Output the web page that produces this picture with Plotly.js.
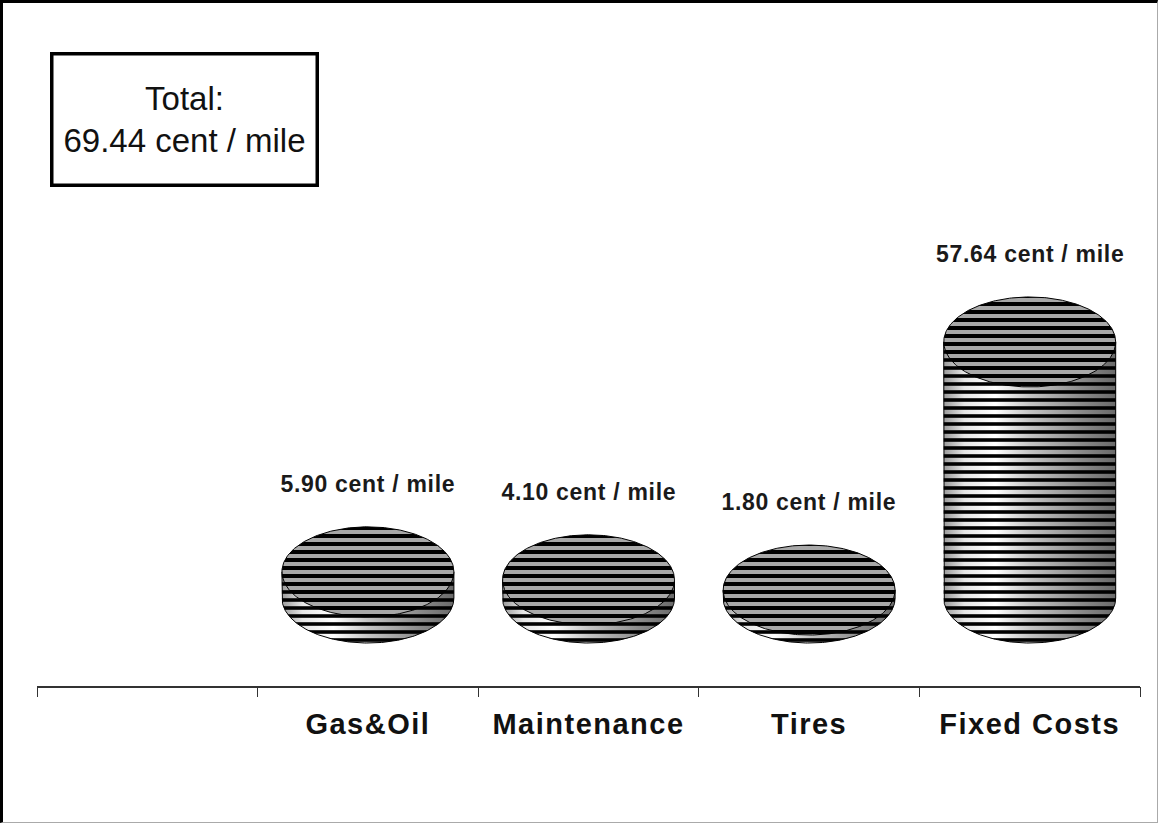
<!DOCTYPE html>
<html>
<head>
<meta charset="utf-8">
<script src="https://cdn.plot.ly/plotly-3.0.1.min.js"></script>
<style>
  html, body { margin: 0; padding: 0; background: #fff; }
  #chart {
    position: absolute; left: 0; top: 0;
    width: 1154px; height: 819px;
    border-left: 3px solid #000; border-top: 3px solid #000;
    border-right: 1px solid #aaa; border-bottom: 1px solid #aaa;
  }
  #chart .xtick text { letter-spacing: 1.5px; }
  #chart .annotation:not([data-index="0"]) text { letter-spacing: 0.7px; }
</style>
</head>
<body>
<div id="chart"></div>
<script>
// ---- data ----
const categories = ['', 'Gas&Oil', 'Maintenance', 'Tires', 'Fixed Costs'];
const costs = [null, 5.90, 4.10, 1.80, 57.64];
const unitLabel = 'cent / mile';
const totalLabel = 'Total:';

// ---- layout geometry ----
const W = 1154, H = 819;
const margin = {l: 34, r: 17, t: 97, b: 136, pad: 0};
const plotW = W - margin.l - margin.r;
const plotH = H - margin.t - margin.b;
const xRange = [-0.5, categories.length - 0.5];
const yRange = [-19.8, 112.1];
const pxPerX = plotW / (xRange[1] - xRange[0]);
const pxPerY = plotH / (yRange[1] - yRange[0]);
const rx = 86 / pxPerX;   // cylinder half width (data units)
const ry = 45 / pxPerY;   // cap ellipse half height (data units)
const N = 160;

const traces = [];
costs.forEach((v, i) => {
  if (v === null || v === undefined) return;
  // body outline: left side, bottom half-ellipse, right side
  const bx = [i - rx], by = [v];
  bx.push(i - rx); by.push(0);
  for (let k = 0; k <= N; k++) {
    const t = Math.PI + Math.PI * k / N;
    bx.push(i + rx * Math.cos(t)); by.push(ry * Math.sin(t));
  }
  bx.push(i + rx); by.push(v);
  bx.push(i - rx); by.push(v);
  traces.push({
    type: 'scatter', x: bx, y: by, mode: 'lines', fill: 'toself',
    line: {color: '#000', width: 1},
    fillgradient: {type: 'horizontal', colorscale: [
      [0, '#9a9a9a'], [0.12, '#e6e6e6'], [0.3, '#ffffff'],
      [0.5, '#c4c4c4'], [0.8, '#8a8a8a'], [1, '#6a6a6a']]},
    hoverinfo: 'skip', showlegend: false
  });
  traces.push({
    type: 'scatter', x: bx, y: by, mode: 'none', fill: 'toself',
    fillcolor: 'rgba(0,0,0,0)',
    fillpattern: {shape: '-', fgcolor: '#000', size: 8, solidity: 0.45},
    hoverinfo: 'skip', showlegend: false
  });
  // top cap ellipse
  const ex = [], ey = [];
  for (let k = 0; k <= 2 * N; k++) {
    const t = 2 * Math.PI * k / (2 * N);
    ex.push(i + rx * Math.cos(t)); ey.push(v + ry * Math.sin(t));
  }
  traces.push({
    type: 'scatter', x: ex, y: ey, mode: 'lines', fill: 'toself',
    line: {color: '#000', width: 1},
    fillcolor: '#a8a8a8',
    fillpattern: {shape: '-', fgcolor: '#000', bgcolor: '#a8a8a8', size: 8, solidity: 0.5},
    hoverinfo: 'skip', showlegend: false
  });
});
// helper trace for the boundary-tick axis
traces.push({type: 'scatter', x: [], y: [], xaxis: 'x2', yaxis: 'y', showlegend: false, hoverinfo: 'skip'});

const total = costs.reduce((s, v) => s + (v || 0), 0);

const annotations = [{
  xref: 'paper', yref: 'paper',
  x: (181 - margin.l) / plotW, y: 1 - (117 - margin.t) / plotH,
  xanchor: 'center', yanchor: 'middle',
  text: totalLabel + '<br>' + total.toFixed(2) + ' ' + unitLabel,
  showarrow: false, align: 'center', valign: 'middle',
  width: 260, height: 126,
  bordercolor: '#000', borderwidth: 3.5, borderpad: 1, bgcolor: '#fff',
  font: {family: 'Liberation Sans, Arial, sans-serif', size: 33, color: '#111'}
}];
costs.forEach((v, i) => {
  if (v === null || v === undefined) return;
  annotations.push({
    xref: 'x', yref: 'y', x: i, y: v, yshift: 88,
    xanchor: 'center', yanchor: 'middle', showarrow: false,
    text: v.toFixed(2) + ' ' + unitLabel,
    font: {family: 'Liberation Sans, Arial, sans-serif', size: 23, color: '#1a1a1a', weight: 'bold'}
  });
});

const layout = {
  width: W, height: H, margin: margin,
  paper_bgcolor: '#fff', plot_bgcolor: '#fff',
  showlegend: false,
  xaxis: {
    type: 'linear', range: xRange, fixedrange: true,
    tickmode: 'array', tickvals: categories.map((c, i) => i), ticktext: categories,
    ticks: '', showline: true, linecolor: '#333', linewidth: 1.5,
    showgrid: false, zeroline: false, ticklabelstandoff: 12,
    tickfont: {family: 'Liberation Sans, Arial, sans-serif', size: 29, color: '#111', weight: 'bold'}
  },
  xaxis2: {
    type: 'linear', range: xRange, overlaying: 'x', anchor: 'y', side: 'bottom', fixedrange: true,
    tickmode: 'array', tickvals: categories.map((c, i) => i - 0.5).concat([categories.length - 0.5]),
    ticks: 'outside', ticklen: 10, tickwidth: 1, tickcolor: '#333',
    showticklabels: false, showline: false, showgrid: false, zeroline: false
  },
  yaxis: {range: yRange, visible: false, fixedrange: true, showgrid: false, zeroline: false},
  annotations: annotations
};

Plotly.newPlot('chart', traces, layout, {displayModeBar: false, staticPlot: true});
</script>
</body>
</html>
